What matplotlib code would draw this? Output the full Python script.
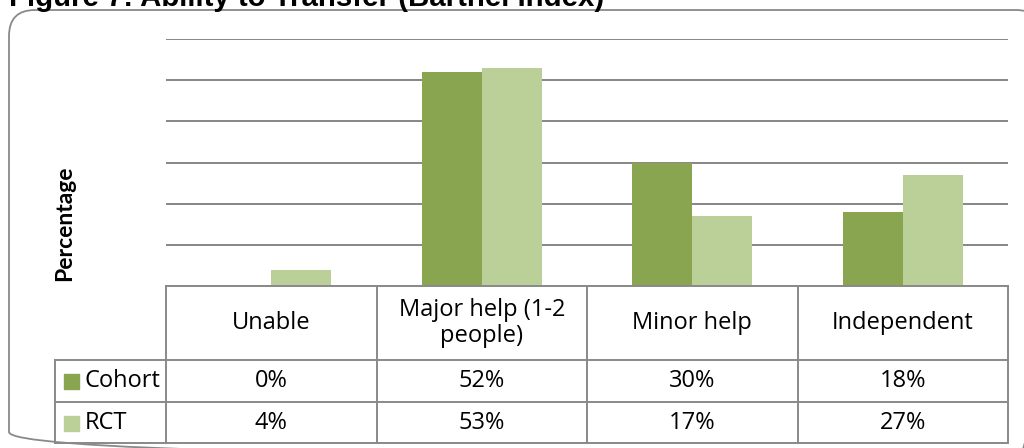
import matplotlib
matplotlib.use("Agg")
import matplotlib.pyplot as plt
from matplotlib.patches import FancyBboxPatch, Rectangle

categories = ["Unable", "Major help (1-2\npeople)", "Minor help", "Independent"]
series_names = ["Cohort", "RCT"]
cohort = [0, 52, 30, 18]
rct = [4, 53, 17, 27]
colors = ["#8aa54f", "#bbd098"]
yticks = [0, 10, 20, 30, 40, 50, 60]

W, H = 1024, 448
fig = plt.figure(figsize=(W / 100, H / 100), dpi=100)

def fx(px):
    return px / W

def fy(py):
    return 1 - py / H

GRAY = "#898989"
TFONT = ["Open Sans", "DejaVu Sans"]

# background axes in pixel units for the rounded border
bg = fig.add_axes([0, 0, 1, 1], zorder=-5)
bg.set_xlim(0, W)
bg.set_ylim(H, 0)
bg.axis("off")
bg.add_patch(FancyBboxPatch((9, 10), 1042 - 9, 458 - 10,
                            boxstyle="round,pad=0,rounding_size=26",
                            facecolor="none", edgecolor=GRAY, linewidth=1.3,
                            clip_on=True))

# title (partly cut at the top)
fig.text(fx(9), fy(6.5), "Figure 7: Ability to Transfer (Barthel Index)",
         fontfamily="Liberation Sans", fontweight="bold", fontsize=21.2,
         ha="left", va="baseline", color="black")

# bar axes
L, R, T, B = 166, 1008, 39, 286
ax = fig.add_axes([fx(L), fy(B), fx(R) - fx(L), fy(T) - fy(B)])
n = len(categories)
x = list(range(n))
bw = 0.285
ax.bar([i - bw / 2 for i in x], cohort, width=bw, color=colors[0], zorder=3)
ax.bar([i + bw / 2 for i in x], rct, width=bw, color=colors[1], zorder=3)
ax.set_xlim(-0.5, n - 0.5)
ax.set_ylim(yticks[0], yticks[-1])
ax.set_yticks(yticks)
ax.yaxis.grid(True, color="#868686", linewidth=1.4, zorder=0)
ax.set_yticklabels([])
ax.tick_params(length=0)
ax.set_xticks([])
for s in ax.spines.values():
    s.set_visible(False)
ax.set_facecolor("none")

fig.text(fx(65), fy(223), "Percentage", rotation=90, fontfamily=["Lato", "DejaVu Sans"],
         fontweight="bold", fontsize=16.5, ha="center", va="center")

# table axes
TL, TT, TB = 55, 286, 443
colw = (R - L) / n
lab_w = (L - TL) / colw
tax = fig.add_axes([fx(TL), fy(TB), fx(R) - fx(TL), fy(TT) - fy(TB)])
tax.set_xlim(-0.5 - lab_w, n - 0.5)
row_h = [74, 42, 41]
tot = sum(row_h)
tax.set_ylim(tot, 0)
tax.axis("off")
edges = [0, row_h[0], row_h[0] + row_h[1], tot]
lw = 1.4
tax.plot([-0.5, n - 0.5], [0, 0], color=GRAY, lw=lw, clip_on=False)
for yv in edges[1:]:
    tax.plot([-0.5 - lab_w, n - 0.5], [yv, yv], color=GRAY, lw=lw, clip_on=False)
tax.plot([-0.5 - lab_w] * 2, [edges[1], tot], color=GRAY, lw=lw, clip_on=False)
for i in range(n + 1):
    tax.plot([i - 0.5] * 2, [0, tot], color=GRAY, lw=lw, clip_on=False)

fs = 17
for i, c in enumerate(categories):
    tax.text(i, edges[1] / 2, c, ha="center", va="center", fontsize=fs,
             fontfamily=TFONT, linespacing=1.15)
rows = [cohort, rct]
for r, (name, vals) in enumerate(zip(series_names, rows)):
    yc = (edges[r + 1] + edges[r + 2]) / 2
    x0 = -0.5 - lab_w
    tax.add_patch(Rectangle((x0 + 0.043, yc - 7), 0.071, 15, color=colors[r],
                            clip_on=False))
    tax.text(x0 + 0.14, yc, name, ha="left", va="center", fontsize=fs,
             fontfamily=TFONT)
    for i, v in enumerate(vals):
        tax.text(i, yc, f"{v}%", ha="center", va="center", fontsize=fs,
                 fontfamily=TFONT)

fig.savefig("out.png", dpi=100)
